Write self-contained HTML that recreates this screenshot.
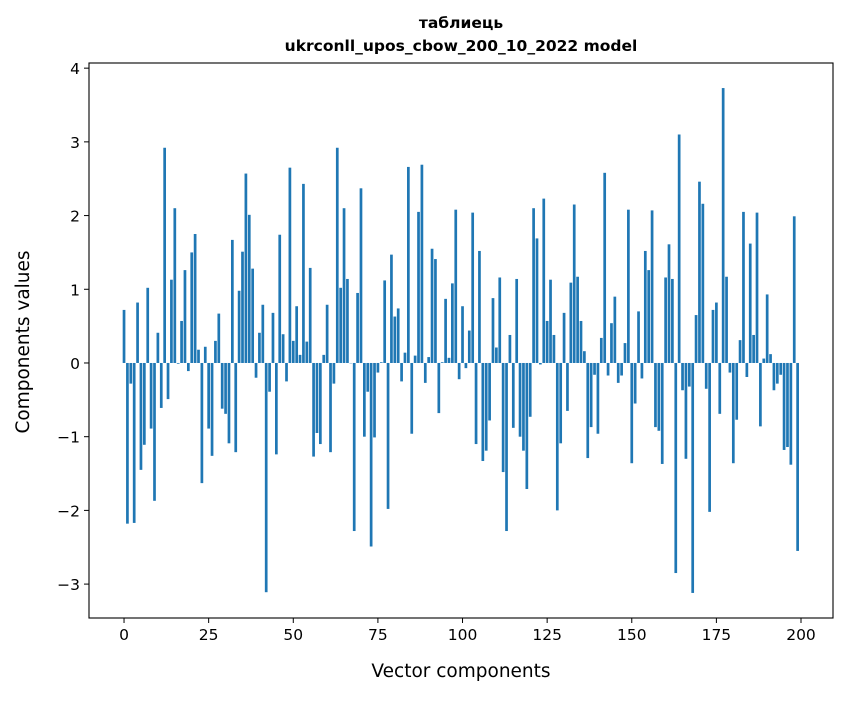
<!DOCTYPE html>
<html><head><meta charset="utf-8"><style>
body{margin:0;background:#fff;}
svg text{font-family:"DejaVu Sans","Liberation Sans",sans-serif;fill:#000;}
</style></head><body>
<svg id="chart" width="847" height="696" viewBox="0 0 847 696" xmlns="http://www.w3.org/2000/svg">
<rect width="847" height="696" fill="#fff"/>
<text x="461" y="28" text-anchor="middle" font-size="15.5" font-weight="bold">таблиець</text>
<text x="461" y="51" text-anchor="middle" font-size="15.5" font-weight="bold">ukrconll_upos_cbow_200_10_2022 model</text>
<g id="bars"></g>
<g id="axes"></g>
<text x="461" y="677" text-anchor="middle" font-size="18.5">Vector components</text>
<text transform="translate(29,342) rotate(-90)" text-anchor="middle" font-size="18.5">Components values</text>
</svg>
<script>
const values = [0.72,-2.18,-0.28,-2.17,0.82,-1.45,-1.11,1.02,-0.89,-1.87,0.41,-0.61,2.92,-0.49,1.13,2.10,-0.01,0.57,1.26,-0.11,1.50,1.75,0.18,-1.63,0.22,-0.89,-1.26,0.30,0.67,-0.62,-0.69,-1.09,1.67,-1.21,0.98,1.51,2.57,2.01,1.28,-0.20,0.41,0.79,-3.11,-0.39,0.68,-1.24,1.74,0.39,-0.25,2.65,
0.30,0.77,0.11,2.43,0.29,1.29,-1.27,-0.95,-1.10,0.11,0.79,-1.21,-0.28,2.92,1.02,2.10,1.14,0.0,-2.28,0.95,2.37,-1.00,-0.39,-2.49,-1.01,-0.13,0.01,1.12,-1.98,1.47,0.63,0.74,-0.25,0.14,2.66,-0.96,0.10,2.05,2.69,-0.27,0.08,1.55,1.41,-0.68,0.01,0.87,0.07,1.08,2.08,-0.22,
0.77,-0.07,0.44,2.04,-1.10,1.52,-1.33,-1.19,-0.78,0.88,0.21,1.16,-1.48,-2.28,0.38,-0.88,1.14,-1.00,-1.19,-1.71,-0.73,2.10,1.69,-0.02,2.23,0.57,1.13,0.38,-2.00,-1.09,0.68,-0.65,1.09,2.15,1.17,0.57,0.16,-1.29,-0.87,-0.16,-0.96,0.34,2.58,-0.17,0.54,0.90,-0.27,-0.17,0.27,2.08,
-1.36,-0.55,0.70,-0.21,1.52,1.26,2.07,-0.87,-0.92,-1.37,1.16,1.61,1.14,-2.85,3.10,-0.37,-1.30,-0.32,-3.12,0.65,2.46,2.16,-0.35,-2.02,0.72,0.82,-0.69,3.73,1.17,-0.13,-1.36,-0.77,0.31,2.05,-0.19,1.62,0.38,2.04,-0.86,0.06,0.93,0.12,-0.37,-0.28,-0.16,-1.18,-1.14,-1.38,1.99,-2.55];
const xTicks = [0,25,50,75,100,125,150,175,200];
const yTicks = [-3,-2,-1,0,1,2,3,4];
const yTickLabels = ["−3","−2","−1","0","1","2","3","4"];

const L=89,R=833,T=63,B=618;
const xMin=-10.35,xMax=209.45,yMin=-3.46,yMax=4.07;
const xs=v=>L+(v-xMin)/(xMax-xMin)*(R-L);
const ys=v=>B-(v-yMin)/(yMax-yMin)*(B-T);
const NS="http://www.w3.org/2000/svg";
const bars=document.getElementById('bars');
values.forEach((v,i)=>{
  const r=document.createElementNS(NS,'rect');
  const x0=xs(i-0.4),x1=xs(i+0.4),y0=ys(Math.max(v,0)),y1=ys(Math.min(v,0));
  r.setAttribute('x',x0);r.setAttribute('width',x1-x0);
  r.setAttribute('y',y0);r.setAttribute('height',Math.max(y1-y0,0.3));
  r.setAttribute('fill','#1f77b4');
  
  
  bars.appendChild(r);
});
const ax=document.getElementById('axes');
function el(tag,attrs,txt){const e=document.createElementNS(NS,tag);for(const k in attrs)e.setAttribute(k,attrs[k]);if(txt!==undefined)e.textContent=txt;ax.appendChild(e);return e;}
const frame=el('rect',{x:L,y:T,width:R-L,height:B-T,fill:'none',stroke:'#000','stroke-width':1.1});


xTicks.forEach(t=>{
  const x=xs(t);
  const ln=el('line',{x1:x,x2:x,y1:B,y2:B+5,stroke:'#000','stroke-width':1});
  
  
  const tx=el('text',{x:x,y:B+22,'text-anchor':'middle','font-size':15.5},String(t));
  
  
});
yTicks.forEach((t,i)=>{
  const y=ys(t);
  const ln=el('line',{x1:L-5,x2:L,y1:y,y2:y,stroke:'#000','stroke-width':1});
  
  
  const tx=el('text',{x:L-9,y:y+6,'text-anchor':'end','font-size':15.5},yTickLabels[i]);
  
  
});
</script>
</body></html>
